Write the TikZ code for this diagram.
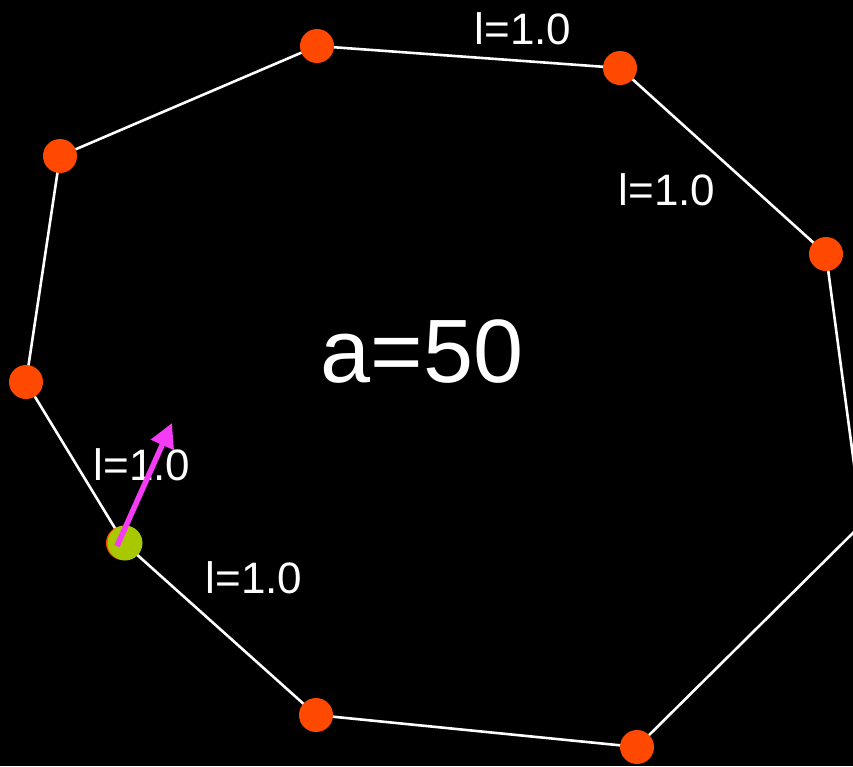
\documentclass[tikz,border=0pt]{standalone}
\usepackage{fontspec}
\setmainfont{Liberation Sans}
\usetikzlibrary{arrows.meta}
\definecolor{dotred}{RGB}{255,72,0}
\definecolor{dotgreen}{RGB}{168,200,0}
\definecolor{arrowmag}{RGB}{245,60,245}
\tikzset{
  vdot/.style={circle,fill=dotred,draw=none,minimum size=34pt,inner sep=0pt},
  gdot/.style={circle,fill=dotgreen,draw=none,minimum size=35pt,inner sep=0pt},
  edge/.style={draw=white,line width=2.6pt},
  lbl/.style={text=white,font=\fontsize{44}{44}\selectfont,inner sep=0pt},
}
\begin{document}
\begin{tikzpicture}[x=1pt,y=-1pt]
\fill[black] (0,0) rectangle (853,766);
\useasboundingbox (0,0) rectangle (853,766);
\clip (0,0) rectangle (853,766);
\coordinate (p1) at (317,46);
\coordinate (p2) at (620,68);
\coordinate (p3) at (826,254);
\coordinate (p4) at (862,524);
\coordinate (p5) at (637,747);
\coordinate (p6) at (316,715);
\coordinate (p7) at (124,543);
\coordinate (p8) at (26,382);
\coordinate (p9) at (60,156);
\draw[edge] (p1) -- (p2) -- (p3) -- (p4) -- (p5) -- (p6) -- (p7) -- (p8) -- (p9) -- cycle;
\foreach \p in {p1,p2,p3,p5,p6,p8,p9} \node[vdot] (d\p) at (\p) {};
\node[vdot] (dp7) at (123,543) {};
\node[gdot] (g7) at (125,543) {};
\node[lbl] (l1) at (523,29) {l=1.0};
\node[lbl] (l2) at (667,190) {l=1.0};
\node[lbl] (l3) at (142,465) {l=1.0};
\node[lbl] (l4) at (254,578) {l=1.0};
\node[text=white,font=\fontsize{90}{90}\selectfont,inner sep=0pt] (a) at (422,352) {a=50};
\coordinate (tail) at (117,546);
\coordinate (tip) at (172,423);
\draw[arrowmag,line width=5.5pt,-{Triangle[length=24pt,width=24pt]}] (tail) -- (tip);
\end{tikzpicture}
\end{document}
